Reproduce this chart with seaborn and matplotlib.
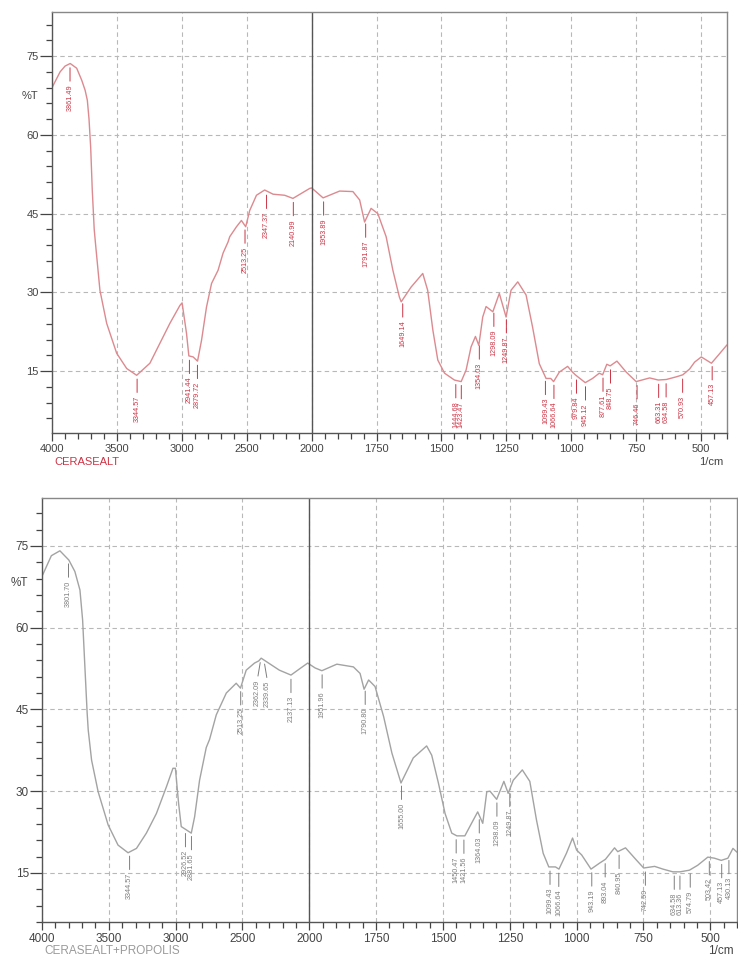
import numpy as np
import matplotlib
matplotlib.use("Agg")
import matplotlib.pyplot as plt
from matplotlib.ticker import FixedLocator, MultipleLocator
import seaborn as sns

sns.set_style("ticks")
plt.rcParams["font.family"] = ["Liberation Sans", "DejaVu Sans"]

# --- CERASEALT spectrum (wavenumber 1/cm, %T)
wn_base = [4000, 3938, 3900, 3860, 3810, 3771, 3745, 3728, 3715, 3702, 3690, 3675,
           3664, 3631, 3579, 3502, 3425, 3348, 3246, 3169, 3092, 3015, 2998, 2964,
           2946, 2913, 2879, 2848, 2810, 2771, 2721, 2682, 2644, 2631, 2579, 2541,
           2508, 2477, 2425, 2362, 2297, 2208, 2144, 2015, 2000, 1956, 1892, 1841,
           1815, 1796, 1771, 1745, 1713, 1687, 1662, 1655, 1617, 1572, 1553, 1533,
           1514, 1488, 1450, 1424, 1405, 1386, 1369, 1356, 1341, 1328, 1302, 1277,
           1251, 1232, 1206, 1174, 1149, 1123, 1097, 1079, 1068, 1046, 1014, 995,
           982, 946, 918, 892, 879, 863, 850, 824, 788, 750, 698, 665, 634, 596,
           570, 544, 525, 499, 460, 434, 400]
t_base = [69.0, 72.0, 73.1, 73.6, 72.7, 70.4, 68.5, 66.6, 63.0, 57.5, 49.5, 42.0,
          39.0, 30.4, 24.1, 18.4, 15.5, 14.2, 16.5, 20.3, 24.1, 27.5, 28.0, 22.2,
          17.9, 17.7, 16.9, 20.9, 27.2, 31.7, 34.2, 37.5, 39.6, 40.6, 42.5, 43.7,
          42.5, 45.6, 48.5, 49.5, 48.7, 48.5, 47.9, 49.8, 49.9, 48.0, 49.3, 49.2,
          47.6, 43.4, 46.0, 45.0, 40.6, 34.2, 29.1, 28.2, 31.0, 33.6, 30.4, 22.8,
          17.1, 14.6, 13.3, 13.0, 15.2, 19.6, 21.6, 19.9, 25.3, 27.3, 26.3, 29.8,
          25.3, 30.4, 32.0, 29.5, 23.4, 16.4, 13.6, 13.6, 13.0, 14.8, 15.9, 14.8,
          14.2, 12.8, 13.6, 14.6, 14.3, 16.3, 16.0, 16.9, 14.8, 13.0, 13.7, 13.3,
          13.4, 13.9, 14.3, 15.4, 16.7, 17.7, 16.5, 18.0, 20.0]
peaks_base = [3861.49, 3344.57, 2941.44, 2879.72, 2513.25, 2347.37, 2140.99,
              1953.89, 1791.87, 1649.14, 1444.68, 1423.47, 1354.03, 1298.09,
              1249.87, 1099.43, 1066.64, 979.84, 945.12, 877.61, 848.75, 746.46,
              663.31, 634.58, 570.93, 457.13]

# --- CERASEALT+PROPOLIS spectrum
wn_prop = [4000, 3930, 3866, 3799, 3754, 3716, 3696, 3679, 3662, 3654, 3629, 3580,
           3505, 3431, 3356, 3293, 3219, 3144, 3069, 3020, 3002, 2978, 2958, 2920,
           2883, 2858, 2821, 2771, 2746, 2696, 2621, 2547, 2515, 2472, 2410, 2378,
           2360, 2323, 2224, 2137, 2075, 2012, 1978, 1953, 1897, 1835, 1810, 1795,
           1778, 1754, 1722, 1691, 1657, 1611, 1561, 1542, 1517, 1492, 1467, 1448,
           1418, 1393, 1370, 1351, 1336, 1324, 1299, 1272, 1256, 1237, 1203, 1175,
           1150, 1125, 1104, 1079, 1066, 1038, 1015, 1000, 981, 946, 914, 892, 858,
           846, 817, 777, 749, 708, 677, 640, 613, 578, 547, 509, 484, 459, 434,
           415, 400]
t_prop = [69.4, 73.2, 74.1, 72.4, 70.3, 66.9, 61.4, 52.8, 44.3, 41.2, 35.7, 29.9,
          23.8, 20.1, 18.7, 19.5, 22.3, 25.9, 30.8, 34.2, 34.2, 27.8, 23.5, 22.9,
          22.3, 25.3, 32.0, 38.0, 39.5, 44.0, 48.0, 49.8, 48.9, 52.2, 53.5, 53.9,
          54.4, 53.8, 52.2, 51.3, 52.4, 53.5, 52.6, 52.1, 53.3, 52.8, 51.6, 48.7,
          50.4, 49.2, 43.7, 37.0, 31.5, 36.1, 38.3, 36.6, 31.5, 25.9, 22.3, 21.8,
          21.8, 24.1, 26.2, 24.1, 29.9, 30.0, 28.5, 31.8, 29.6, 32.0, 33.9, 31.8,
          24.7, 18.6, 16.1, 16.1, 15.7, 18.6, 21.4, 19.2, 18.3, 15.7, 16.8, 17.5,
          19.6, 18.9, 19.6, 17.4, 15.9, 16.2, 15.7, 15.2, 15.2, 15.5, 16.4, 17.9,
          17.7, 17.3, 17.7, 19.5, 18.8]
peaks_prop = [3801.70, 3344.57, 2926.52, 2881.65, 2513.25, 2362.09, 2339.65,
              2137.13, 1951.96, 1790.80, 1655.00, 1450.47, 1421.56, 1364.03,
              1298.09, 1249.87, 1099.43, 1066.64, 943.19, 893.04, 840.95, 742.59,
              634.58, 613.36, 574.79, 503.42, 457.13, 430.13]

x_major = [4000, 3500, 3000, 2500, 2000, 1750, 1500, 1250, 1000, 750, 500]
y_major = [15, 30, 45, 60, 75]

# labels that sit too close together get pushed apart a little (points)
nudge = {2362.09: -2.5, 2339.65: 2.5}


# spectrometer axis: 500 per division above 2000, 250 per division below
def fwd(x):
    x = np.asarray(x, dtype=float)
    return np.where(x >= 2000, x, 2 * x - 2000)


def inv(u):
    u = np.asarray(u, dtype=float)
    return np.where(u >= 2000, u, (u + 2000) / 2)


def draw_panel(ax, wn, tr, peaks, line_c, lab_c, name, name_c, ylim, fs):
    sns.lineplot(x=wn, y=tr, ax=ax, color=line_c, linewidth=1.0, sort=False)
    ax.set_xscale("function", functions=(fwd, inv))
    ax.set_xlim(4000, 400)
    ax.set_ylim(*ylim)
    ax.xaxis.set_major_locator(FixedLocator(x_major))
    ax.xaxis.set_minor_locator(FixedLocator(
        list(np.arange(2000, 4001, 100)) + list(np.arange(400, 2000, 50))))
    ax.yaxis.set_major_locator(FixedLocator(y_major))
    ax.yaxis.set_minor_locator(MultipleLocator(3))
    ax.set_xticklabels([str(v) for v in x_major])
    ax.grid(True, which="major", color="#b8b8b8", linestyle=(0, (4, 3)), lw=0.8)
    ax.axvline(2000, color="#555555", lw=1.0)
    ax.tick_params(axis="y", which="major", length=8.5, width=0.9, pad=1,
                   labelsize=fs, colors="#444444")
    ax.tick_params(axis="y", which="minor", length=4.5, width=0.9, colors="#444444")
    ax.tick_params(axis="x", which="major", length=6, width=0.9, pad=2,
                   labelsize=fs, colors="#444444")
    ax.tick_params(axis="x", which="minor", length=4.5, width=0.9, colors="#444444")
    for s in ax.spines.values():
        s.set_color("#888888")
        s.set_linewidth(1.0)
    ax.spines["left"].set_color("#555555")
    ax.spines["bottom"].set_color("#555555")
    ax.set_xlabel("")
    ax.set_ylabel("")

    xs = np.array(wn[::-1], dtype=float)
    ys = np.array(tr[::-1], dtype=float)
    for p in peaks:
        yv = np.interp(p, xs, ys)
        ax.annotate(f"{p:.2f}", xy=(p, yv), xytext=(nudge.get(p, 0), -15),
                    textcoords="offset points", rotation=90, ha="center",
                    va="top", fontsize=5.2, color=lab_c,
                    arrowprops=dict(arrowstyle="-", color=lab_c, lw=0.7,
                                    shrinkA=0, shrinkB=3, relpos=(0.5, 1.0)))

    ax.text(-0.032, 0.80, "%T", transform=ax.transAxes, ha="center",
            va="center", fontsize=fs, color="#444444")
    ax.text(0.995, -0.068, "1/cm", transform=ax.transAxes, ha="right",
            va="center", fontsize=fs, color="#444444")
    ax.text(0.004, -0.068, name, transform=ax.transAxes, ha="left",
            va="center", fontsize=fs, color=name_c)


fig = plt.figure(figsize=(7.38, 9.57), dpi=100)
fig.patch.set_facecolor("white")

ax1 = fig.add_axes([0.0705, 0.5475, 0.9146, 0.4399])
draw_panel(ax1, wn_base, t_base, peaks_base, "#dc8a8f", "#cc3344",
           "CERASEALT", "#cc3344", (3.2, 83.4), 8)

ax2 = fig.add_axes([0.0569, 0.0366, 0.9417, 0.4431])
draw_panel(ax2, wn_prop, t_prop, peaks_prop, "#a3a3a3", "#7d7d7d",
           "CERASEALT+PROPOLIS", "#9a9a9a", (6.0, 83.8), 8.5)

fig.savefig("out.png", dpi=100, facecolor="white")
